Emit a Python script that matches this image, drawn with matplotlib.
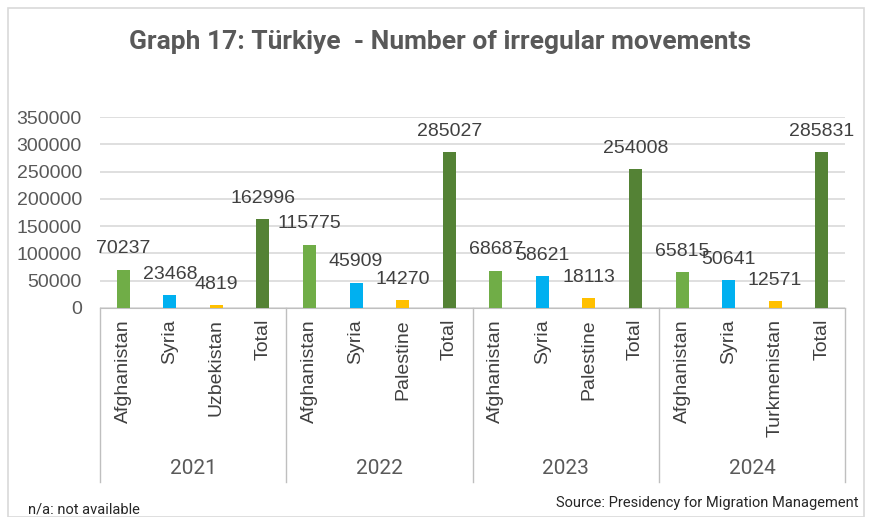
import numpy as np
import matplotlib.pyplot as plt
from matplotlib.patches import Rectangle
import matplotlib.transforms as mtransforms

# data
years = ['2021', '2022', '2023', '2024']
countries = [['Afghanistan', 'Syria', 'Uzbekistan', 'Total'],
             ['Afghanistan', 'Syria', 'Palestine', 'Total'],
             ['Afghanistan', 'Syria', 'Palestine', 'Total'],
             ['Afghanistan', 'Syria', 'Turkmenistan', 'Total']]
values = [[70237, 23468, 4819, 162996],
          [115775, 45909, 14270, 285027],
          [68687, 58621, 18113, 254008],
          [65815, 50641, 12571, 285831]]
bar_colors = ['#70AD47', '#00B0F0', '#FFC000', '#548235']

narrow = ['Liberation Sans Narrow', 'Roboto', 'DejaVu Sans']
plt.rcParams['font.family'] = ['Liberation Sans', 'DejaVu Sans']

fig = plt.figure(figsize=(8.72, 5.17), dpi=100)
ax = fig.add_axes([100 / 872, 1 - 308 / 517, 745 / 872, 191 / 517])

labels = [c for grp in countries for c in grp]
heights = [v for grp in values for v in grp]
cols = bar_colors * len(years)
x = np.arange(len(labels))

bars = ax.bar(x, heights, width=0.28, color=cols, zorder=3)
for xi, h in zip(x, heights):
    ax.annotate(str(h), (xi, h), xytext=(0, 9), textcoords='offset points',
                ha='center', va='bottom', fontsize=14, color='#404040')

ax.set_xlim(-0.5, len(labels) - 0.5)
ax.set_ylim(0, 350000)
ax.set_yticks(np.arange(0, 350001, 50000))
ax.yaxis.grid(True, color='#d9d9d9', linewidth=1.2, zorder=0)
ax.set_axisbelow(True)
for s in ['left', 'right', 'top']:
    ax.spines[s].set_visible(False)
ax.spines['bottom'].set_color('#bfbfbf')
ax.tick_params(axis='y', length=0, pad=13, labelsize=14, labelcolor='#595959')
ax.set_xticks(x)
ax.set_xticklabels(labels, rotation=90, fontsize=14, color='#404040')
ax.tick_params(axis='x', length=0, pad=8)

# group separators and year labels
trans = mtransforms.blended_transform_factory(ax.transData, ax.transAxes)
for k in range(len(years) + 1):
    xs = k * 4 - 0.5
    ax.plot([xs, xs], [0, -0.91], transform=trans, color='#bfbfbf',
            linewidth=1, clip_on=False)
for k, yr in enumerate(years):
    ax.text(k * 4 + 1.5, -0.838, yr, transform=trans, ha='center', va='center',
            fontsize=15, color='#595959', family=narrow)

fig.text(0.505, 1 - 42 / 517, 'Graph 17: Türkiye  - Number of irregular movements',
         ha='center', va='center', fontsize=19, fontweight='bold',
         color='#595959', family=narrow)
fig.text(858 / 872, 1 - 503 / 517, 'Source: Presidency for Migration Management',
         ha='right', va='center', fontsize=10.5, color='#262626', family=narrow)
fig.text(28 / 872, 1 - 510 / 517, 'n/a: not available',
         ha='left', va='center', fontsize=10.5, color='#262626', family=narrow)

fig.patches.append(Rectangle((8 / 872, 0), 856 / 872, 1 - 8 / 517,
                             transform=fig.transFigure, fill=False,
                             edgecolor='#d9d9d9', linewidth=1.2))

fig.savefig('out.png', dpi=100)
